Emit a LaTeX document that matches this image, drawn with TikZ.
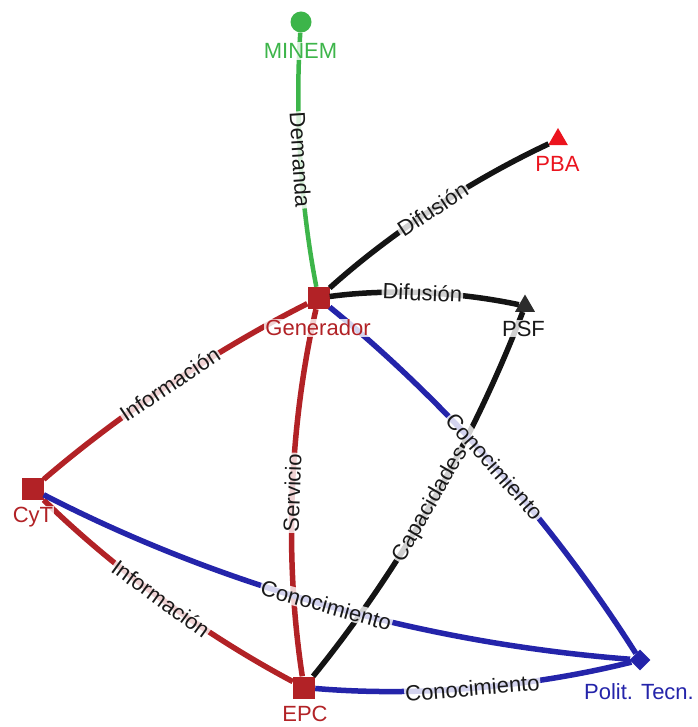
\documentclass[tikz,border=0pt]{standalone}
\usepackage{fontspec}
\setmainfont{Liberation Sans}
\usetikzlibrary{shapes.geometric,calc}
\definecolor{cgreen}{RGB}{61,181,74}
\definecolor{cred}{RGB}{178,34,38}
\definecolor{cblue}{RGB}{36,36,170}
\definecolor{cblack}{RGB}{20,20,20}
\definecolor{cpba}{RGB}{235,20,30}
\definecolor{clbl}{RGB}{25,25,25}
\begin{document}
\begin{tikzpicture}[x=1pt,y=-1pt,font=\fontsize{22}{22}\selectfont,
  sqmark/.style={rectangle,fill=cred,minimum size=22pt,inner sep=0pt},
  trimark/.style={regular polygon,regular polygon sides=3,minimum size=23pt,inner sep=0pt},
  nlab/.style={fill=white,fill opacity=0.8,text opacity=1,inner sep=1pt},
  elab/.style={sloped,midway,fill=white,fill opacity=0.8,text opacity=1,inner sep=1pt,text=clbl},
  lnk/.style={line width=5.5pt}]
\useasboundingbox (0,0) rectangle (697,727);
% markers
\node[circle,fill=cgreen,minimum size=21pt,inner sep=0pt] (minem) at (301,22) {};
\node[trimark,fill=cpba] (pba) at (558,139.5) {};
\node[sqmark] (gen) at (318.5,298) {};
\node[trimark,fill=cblack!90] (psf) at (525,306) {};
\node[sqmark] (cyt) at (32.5,489) {};
\node[sqmark] (epc) at (304,687.5) {};
\node[diamond,fill=cblue,minimum width=21pt,minimum height=21pt,inner sep=0pt] (pol) at (640,660) {};
% curve handles (quadratic control points)
\coordinate (q1) at (291.75,160);
\coordinate (q2) at (426.4,201);
\coordinate (q3) at (421.75,284);
\coordinate (q4) at (444.9,514);
\coordinate (q5) at (163.9,376.1);
\coordinate (q6) at (274.25,492.75);
\coordinate (q7) at (508.65,453);
\coordinate (q8) at (153.85,607.85);
\coordinate (q9) at (316,635);
\coordinate (q10) at (472,701.75);
% edges
\draw[lnk,cgreen,line width=4.5pt] (minem) .. controls ($(minem)!0.6667!(q1)$) and ($(gen)!0.6667!(q1)$) .. (gen) node[elab] {Demanda};
\draw[lnk,cblack] (gen) .. controls ($(gen)!0.6667!(q2)$) and ($(pba)!0.6667!(q2)$) .. (pba) node[elab] {Difusión};
\draw[lnk,cblack] (gen) .. controls ($(gen)!0.6667!(q3)$) and ($(psf)!0.6667!(q3)$) .. (psf) node[elab] {Difusión};
\draw[lnk,cred] (gen) .. controls ($(gen)!0.6667!(q5)$) and ($(cyt)!0.6667!(q5)$) .. (cyt) node[elab] {Información};
\draw[lnk,cred] (cyt) .. controls ($(cyt)!0.6667!(q8)$) and ($(epc)!0.6667!(q8)$) .. (epc) node[elab] {Información};
\draw[lnk,cblue] (epc) .. controls ($(epc)!0.6667!(q10)$) and ($(pol)!0.6667!(q10)$) .. (pol) node[elab] {Conocimiento};
\draw[lnk,cred] (gen) .. controls ($(gen)!0.6667!(q6)$) and ($(epc)!0.6667!(q6)$) .. (epc) node[elab] {Servicio};
\draw[lnk,cblack] (psf) .. controls ($(psf)!0.6667!(q4)$) and ($(epc)!0.6667!(q4)$) .. (epc) node[elab] {Capacidades};
\draw[lnk,cblue] (gen) .. controls ($(gen)!0.6667!(q7)$) and ($(pol)!0.6667!(q7)$) .. (pol) node[elab] {Conocimiento};
\draw[lnk,cblue] (cyt) .. controls ($(cyt)!0.6667!(q9)$) and ($(pol)!0.6667!(q9)$) .. (pol) node[elab] {Conocimiento};
% node labels
\node[nlab,text=cgreen] (minemL) at (300.5,51) {MINEM};
\node[nlab,text=cpba] (pbaL) at (557.5,163.5) {PBA};
\node[nlab,text=cred] (genL) at (318,328) {Generador};
\node[nlab,text=clbl] (psfL) at (523.5,328.5) {PSF};
\node[nlab,text=cred] (cytL) at (33,517) {CyT};
\node[nlab,text=cred] (epcL) at (305,714) {EPC};
\node[nlab,text=cblue] (polL) at (639,692) {Polit. Tecn.};
\end{tikzpicture}
\end{document}
